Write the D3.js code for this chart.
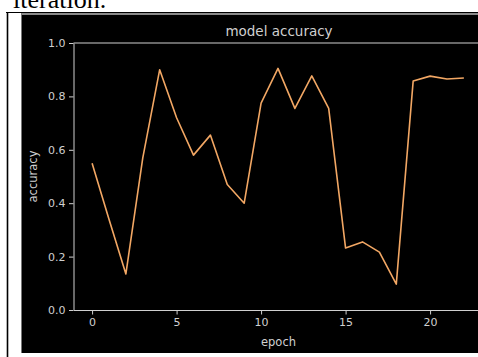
<!DOCTYPE html>
<html>
<head>
<meta charset="utf-8">
<script src="https://cdn.jsdelivr.net/npm/d3@7"></script>
<style>
  body { margin: 0; background: #fff; }
  svg { display: block; }
</style>
</head>
<body>
<div id="chart"></div>
<script>
// accuracy per epoch
var epochs = d3.range(0, 23);
var accuracy = [0.55, 0.34, 0.135, 0.57, 0.90, 0.72, 0.58, 0.655, 0.47, 0.40,
                0.775, 0.905, 0.755, 0.877, 0.755, 0.232, 0.255, 0.217, 0.097,
                0.858, 0.876, 0.865, 0.869];
var xTicks = [0, 5, 10, 15, 20];
var yTicks = [0.0, 0.2, 0.4, 0.6, 0.8, 1.0];

var W = 478, H = 357;

var svg = d3.select('#chart').append('svg')
    .attr('width', W)
    .attr('height', H);

// page bits around the figure (text line above, table borders)
svg.append('text')
    .attr('x', 13).attr('y', 8)
    .attr('font-family', 'Liberation Serif, Times New Roman, serif')
    .attr('font-size', 26)
    .attr('fill', '#000')
    .text('iteration.');

svg.append('line')
    .attr('x1', 6).attr('x2', W).attr('y1', 12.5).attr('y2', 12.5)
    .attr('stroke', '#000').attr('stroke-width', 1.2);
svg.append('line')
    .attr('x1', 7.5).attr('x2', 7.5).attr('y1', 12).attr('y2', H)
    .attr('stroke', '#000').attr('stroke-width', 1.6);

// the figure image itself (dark background)
svg.append('rect')
    .attr('x', 21).attr('y', 13).attr('width', W - 21).attr('height', 340)
    .attr('fill', '#000');
svg.append('rect')
    .attr('x', 21).attr('y', 13).attr('width', W - 21).attr('height', 2)
    .attr('fill', '#8a8a8a');
svg.append('line')
    .attr('x1', 21.5).attr('x2', 21.5).attr('y1', 13).attr('y2', 353)
    .attr('stroke', '#777').attr('stroke-width', 1);

// plot area
var dim = {l: 73.5, t: 43, b: 310};
var x = d3.scaleLinear().domain([-1.1, 23.1]).range([dim.l, dim.l + 24.2 * 16.9]);
var y = d3.scaleLinear().domain([0, 1]).range([dim.b, dim.t]);

var grey = '#d0d0d0';

// x-axis
var xAxis = svg.append('g')
    .attr('transform', 'translate(0,' + dim.b + ')')
    .call(d3.axisBottom(x).tickValues(xTicks).tickFormat(d3.format('d'))
        .tickSize(4.5).tickPadding(3.5).tickSizeOuter(0));

// y-axis
var yAxis = svg.append('g')
    .attr('transform', 'translate(' + dim.l + ',0)')
    .call(d3.axisLeft(y).tickValues(yTicks).tickFormat(d3.format('.1f'))
        .tickSize(4.5).tickPadding(3.5).tickSizeOuter(0));

[xAxis, yAxis].forEach(function(a) {
    a.select('.domain').attr('stroke', grey).attr('stroke-width', 1);
    a.selectAll('.tick line').attr('stroke', grey).attr('stroke-width', 1);
    a.selectAll('.tick text')
        .attr('fill', grey)
        .attr('font-family', 'DejaVu Sans, sans-serif')
        .attr('font-size', 11);
});

// top spine
svg.append('line')
    .attr('x1', dim.l).attr('x2', W).attr('y1', dim.t).attr('y2', dim.t)
    .attr('stroke', grey).attr('stroke-width', 1);

// the accuracy line
var line = d3.line()
    .x(function(d, i) { return x(epochs[i]); })
    .y(function(d) { return y(d); });

svg.append('path')
    .datum(accuracy)
    .attr('d', line)
    .attr('fill', 'none')
    .attr('stroke', '#f2a764')
    .attr('stroke-width', 1.6)
    .attr('stroke-linejoin', 'round');

// title and axis labels
svg.append('text')
    .attr('x', 279).attr('y', 35.5)
    .attr('text-anchor', 'middle')
    .attr('font-family', 'DejaVu Sans, sans-serif')
    .attr('font-size', 13.5)
    .attr('fill', grey)
    .text('model accuracy');

svg.append('text')
    .attr('x', 278.5).attr('y', 346)
    .attr('text-anchor', 'middle')
    .attr('font-family', 'DejaVu Sans, sans-serif')
    .attr('font-size', 11.5)
    .attr('fill', grey)
    .text('epoch');

svg.append('text')
    .attr('transform', 'translate(37,176.5) rotate(-90)')
    .attr('text-anchor', 'middle')
    .attr('font-family', 'DejaVu Sans, sans-serif')
    .attr('font-size', 11.5)
    .attr('fill', grey)
    .text('accuracy');
</script>
</body>
</html>
